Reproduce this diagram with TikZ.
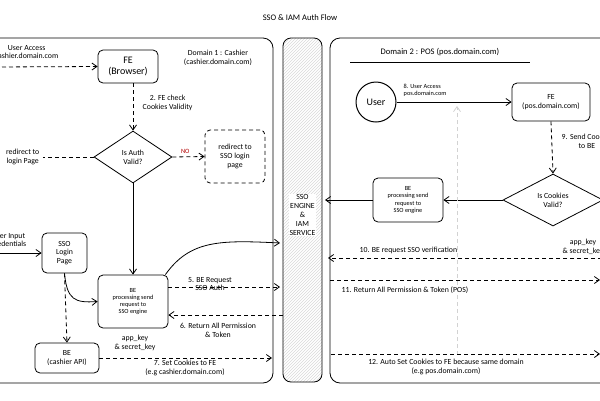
\documentclass[tikz,border=0pt]{standalone}
\usepackage{fontspec}
\setmainfont{Carlito}
\usetikzlibrary{shapes.geometric,arrows.meta,patterns}
\begin{document}
\begin{tikzpicture}[x=1pt,y=-1pt,
  line width=0.8pt,
  box/.style={draw,rounded corners=5pt,align=center,inner sep=2pt},
  lbl/.style={align=center,font=\fontsize{7.8}{8.8}\selectfont},
  slbl/.style={align=center,font=\fontsize{6.3}{7.2}\selectfont},
  dsh/.style={dashed,dash pattern=on 4pt off 3pt,-{Straight Barb[length=5pt,width=7pt]}},
  sol/.style={-{Straight Barb[length=5pt,width=7pt]}}]
\useasboundingbox (0,0) rectangle (600,400);
\clip (0,0) rectangle (600,400);
\node[font=\fontsize{8.5}{9}\selectfont] (title) at (300,18) {SSO \& IAM Auth Flow};
% panels
\draw[rounded corners=10pt] (-10,38) rectangle (273,383);
\draw[rounded corners=8pt,pattern=north east lines,pattern color=gray!30] (283,38) rectangle (322,382);
\node[lbl,fill=white,inner sep=1pt] (sso) at (302.5,215) {SSO\\ENGINE\\\&\\IAM\\SERVICE};
\draw[rounded corners=10pt] (330,38) rectangle (612,383);
% left
\node[box,minimum width=60pt,minimum height=33pt,font=\fontsize{10}{11}\selectfont] (fe) at (128,66.5) {FE\\(Browser)};
\node[lbl] (d1) at (218,58) {Domain 1 : Cashier\\(cashier.domain.com)};
\node[lbl,anchor=east] (ua) at (62,52) {User Access\\cashier.domain.com};
\coordinate (uaS) at (-5,67);
\draw[dsh] (uaS) -- (fe.west);
\node[diamond,draw,aspect=1.6,inner sep=1pt,lbl,minimum width=78pt,minimum height=52pt] (auth) at (133,157) {Is Auth\\Valid?};
\draw[dsh] (fe.south -| auth.north) -- (auth.north);
\node[lbl,anchor=west] (l2) at (139,103) {2. FE check\\Cookies Validity};
\node[box,dashed,dash pattern=on 4pt off 3pt,minimum width=60pt,minimum height=53pt,lbl] (redir) at (235,156.5) {redirect to\\SSO login\\page};
\draw[dsh] (auth.east) -- node[above,pos=0.4,text=red!70!black,font=\fontsize{6.5}{7}\selectfont]{NO} (redir.west);
\node[lbl,anchor=east] (rlt) at (43,157) {redirect to\\login Page};
\draw[dashed,dash pattern=on 4pt off 3pt] (auth.west) -- (rlt.east);
\node[box,minimum width=45pt,minimum height=40pt,lbl] (login) at (64.5,253) {SSO\\Login\\Page};
\node[lbl,anchor=east] (inp) at (30,240) {User Input\\Credentials};
\coordinate (inS) at (-5,253);
\draw[sol] (inS) -- (login.west);
\node[box,minimum width=70pt,minimum height=53pt,slbl] (be) at (133,301.5) {BE\\processing send\\request to\\SSO engine};
\draw[sol] (auth.south) -- (be.north);
\node[lbl] (keys) at (135,343) {app\_key\\\& secret\_key};
\node[box,minimum width=64pt,minimum height=30pt,lbl] (bec) at (67,358) {BE\\(cashier API)};
\draw[sol] (login.south) .. controls (67,300) and (75,303) .. (be.west);
\draw[dsh] (login.south) -- (bec.north);
\coordinate (s7) at (272,358);
\draw[dsh] (bec.east) -- (s7);
\node[lbl] (l7) at (185,368) {7. Set Cookies to FE\\(e.g cashier.domain.com)};
\coordinate (s4) at (280,243);
\draw[sol] (be.north east) ++(-3,0) .. controls (190,240) and (220,240) .. (s4);
\coordinate (s5) at (280,287);
\draw[dsh] (be.east |- s5) -- (s5);
\node[lbl] (l5) at (210,284) {5. BE Request\\SSO Auth};
\coordinate (s6) at (283,315);
\draw[dsh] (s6) -- (be.east |- s6);
\node[lbl] (l6) at (218,330) {6. Return All Permission\\\& Token};
% right
\node[font=\fontsize{8.5}{9}\selectfont] (d2) at (440,52) {Domain 2 : POS (pos.domain.com)};
\draw[line width=0.6pt] (350,62) -- (530,62);
\node[circle,draw,line width=1pt,minimum size=40pt,font=\fontsize{10}{11}\selectfont] (user) at (376,102) {User};
\node[box,minimum width=78pt,minimum height=38pt,lbl] (fe2) at (551,102) {FE\\(pos.domain.com)};
\draw[sol] (user.east) -- (fe2.west);
\node[slbl,anchor=south west,align=left] (l8) at (400,100) {8. User Access\\pos.domain.com};
\node[diamond,draw,aspect=1.9,inner sep=1pt,lbl,minimum width=100pt,minimum height=52pt] (ck) at (553,200) {Is Cookies\\Valid?};
\draw[dsh] (fe2.south) -- (ck.north);
\node[lbl,anchor=west] (l9) at (558,141) {9. Send Cookies\\to BE};
\node[box,minimum width=70pt,minimum height=44pt,slbl] (be2) at (408,200) {BE\\processing send\\request to\\SSO engine};
\draw[sol] (ck.west) -- (be2.east);
\coordinate (s8) at (325,200);
\draw[sol] (be2.west) -- (s8);
\coordinate (g1) at (457,355);
\coordinate (g2) at (457,106);
\draw[dsh,gray!35] (g1) -- (g2);
\node[lbl] (keys2) at (583,247) {app\_key\\\& secret\_key};
\coordinate (r10a) at (602,258); \coordinate (r10b) at (328,258);
\draw[dsh] (r10a) -- (r10b);
\node[lbl,anchor=south west] (l10) at (356,257) {10. BE request SSO verification};
\coordinate (r11a) at (330,280); \coordinate (r11b) at (600,280);
\draw[dsh] (r11a) -- (r11b);
\node[lbl,anchor=north west] (l11) at (338,283) {11. Return All Permission \& Token (POS)};
\coordinate (r12a) at (331,354); \coordinate (r12b) at (600,354);
\draw[dsh] (r12a) -- (r12b);
\node[lbl] (l12) at (446,367) {12. Auto Set Cookies to FE because same domain\\(e.g pos.domain.com)};
\end{tikzpicture}
\end{document}
